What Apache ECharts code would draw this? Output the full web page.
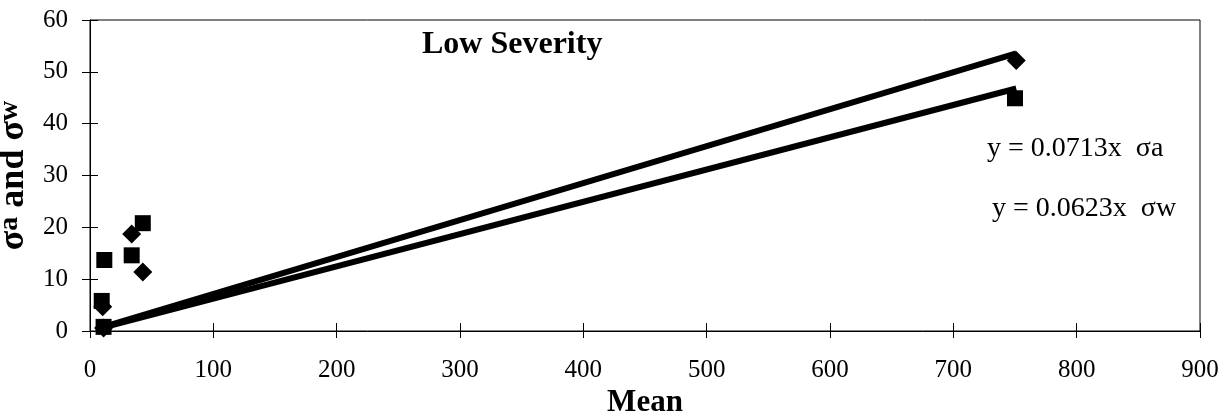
<!DOCTYPE html>
<html>
<head>
<meta charset="utf-8">
<script src="https://cdn.jsdelivr.net/npm/echarts@6/dist/echarts.min.js"></script>
<style>
    html, body { margin: 0; padding: 0; background: #fff; }
    #chart { width: 1229px; height: 417px; }
</style>
</head>
<body>
<div id="chart"></div>
<script>
/* 数据 */
var sigmaA = [[11, 0.6], [10.3, 4.7], [33.8, 18.7], [42.8, 11.4], [751, 52.2]];   // diamonds
var sigmaW = [[11, 0.8], [9.5, 5.8], [11.6, 13.7], [33.8, 14.6], [42.8, 20.8], [750, 44.9]]; // squares
var slopeA = 0.0713;
var slopeW = 0.0623;
var fitRange = [11, 751];
var xTicks = [0, 900, 100];
var yTicks = [0, 60, 10];

var FONT = "'Liberation Serif', 'Times New Roman', serif";

function fitLine(slope) {
    return fitRange.map(function (x) { return [x, slope * x]; });
}

var chart = echarts.init(document.getElementById('chart'));

var baseX = {
    type: 'value', min: xTicks[0], max: xTicks[1], interval: xTicks[2],
    splitLine: { show: false }
};
var baseY = {
    type: 'value', min: yTicks[0], max: yTicks[1], interval: yTicks[2],
    splitLine: { show: false }
};

chart.setOption({
    backgroundColor: '#fff',
    animation: false,
    grid: {
        left: 90, right: 29, top: 20, bottom: 86,
        outerBoundsMode: 'none',
        containLabel: false,
        show: true, borderColor: '#000', borderWidth: 1, backgroundColor: 'transparent'
    },
    xAxis: [
        Object.assign({}, baseX, {
            name: 'Mean',
            nameLocation: 'middle',
            nameGap: 52,
            nameTextStyle: { fontFamily: FONT, fontSize: 31, fontWeight: 'bold', color: '#000' },
            axisLine: { lineStyle: { color: '#000', width: 1 } },
            axisTick: { length: 7, lineStyle: { color: '#000' } },
            axisLabel: { margin: 27, fontFamily: FONT, fontSize: 25, color: '#000' }
        }),
        // 轴内侧的刻度（交叉刻度）
        Object.assign({}, baseX, {
            position: 'bottom',
            axisLine: { show: false },
            axisTick: { inside: true, length: 8, lineStyle: { color: '#000' } },
            axisLabel: { show: false }
        })
    ],
    yAxis: [
        Object.assign({}, baseY, {
            name: '{s|σ}{t|a}{s| and σ}{t|w}',
            nameLocation: 'middle',
            nameRotate: 90,
            nameGap: 56,
            nameTextStyle: {
                rich: {
                    s: { fontFamily: FONT, fontSize: 36, fontWeight: 'bold', color: '#000' },
                    t: { fontFamily: FONT, fontSize: 28, fontWeight: 'bold', color: '#000', verticalAlign: 'top' }
                }
            },
            axisLine: { lineStyle: { color: '#000', width: 1 } },
            axisTick: { length: 8, lineStyle: { color: '#000' } },
            axisLabel: { margin: 22, fontFamily: FONT, fontSize: 25, color: '#000' }
        }),
        Object.assign({}, baseY, {
            position: 'left',
            axisLine: { show: false },
            axisTick: { inside: true, length: 8, lineStyle: { color: '#000' } },
            axisLabel: { show: false }
        })
    ],
    graphic: [
        {
            type: 'text', left: 422, top: 29,
            style: { text: 'Low Severity', font: 'bold 32px ' + FONT, fill: '#000' }
        },
        {
            type: 'text', left: 987, top: 135,
            style: { text: 'y = 0.0713x  σa', font: '28px ' + FONT, fill: '#000' }
        },
        {
            type: 'text', left: 992, top: 195,
            style: { text: 'y = 0.0623x  σw', font: '28px ' + FONT, fill: '#000' }
        }
    ],
    series: [
        {
            name: 'σa fit', type: 'line', data: fitLine(slopeA),
            symbol: 'none', lineStyle: { color: '#000', width: 6 }, z: 2
        },
        {
            name: 'σw fit', type: 'line', data: fitLine(slopeW),
            symbol: 'none', lineStyle: { color: '#000', width: 6 }, z: 2
        },
        {
            name: 'σw', type: 'scatter', data: sigmaW,
            symbol: 'rect', symbolSize: 16, itemStyle: { color: '#000', opacity: 1 }, z: 3
        },
        {
            name: 'σa', type: 'scatter', data: sigmaA,
            symbol: 'diamond', symbolSize: [19, 19], itemStyle: { color: '#000', opacity: 1 }, z: 4
        }
    ]
});
</script>
</body>
</html>
